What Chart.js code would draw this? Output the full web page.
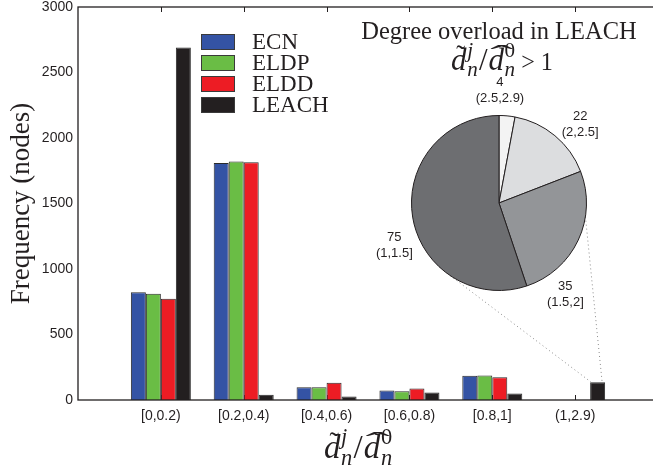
<!DOCTYPE html>
<html>
<head>
<meta charset="utf-8">
<style>
  html, body { margin: 0; padding: 0; overflow: hidden; background: #fff; width: 653px; height: 471px; }
  #wrap { position: relative; width: 668px; height: 471px; }
  #wrap canvas { position: absolute; left: 0; top: 0; }
</style>
<script src="https://cdn.jsdelivr.net/npm/chart.js@4.4.0/dist/chart.umd.min.js"></script>
</head>
<body>
<div id="wrap">
  <canvas id="bars" width="668" height="471"></canvas>
  <canvas id="pie" width="668" height="471"></canvas>
</div>
<script>
// Degree-ratio histogram per protocol
const categories = ['[0,0.2)', '[0.2,0.4)', '[0.4,0.6)', '[0.6,0.8)', '[0.8,1]', '(1,2.9)'];
const ecn   = [823, 1810, 98, 72, 185, 0];
const eldp  = [811, 1820, 98, 67, 187, 0];
const eldd  = [773, 1815, 131, 88, 174, 0];
const leach = [2690, 40, 27, 57, 50, 136];
const yTicks = [0, 500, 1000, 1500, 2000, 2500, 3000];

// LEACH nodes whose degree ratio exceeds 1, split by range
const overloadCounts = [4, 22, 35, 75];
const overloadRanges = ['(2.5,2.9)', '(2,2.5]', '(1.5,2]', '(1,1.5]'];

const ink = '#231f20';
const serif = '"Liberation Serif", "Times New Roman", serif';
const sans = '"Liberation Sans", Arial, sans-serif';

// one empty slot on each side of the six bins
const pad = arr => [null, ...arr, null];

// draws the ratio  d~_n^j / d^_n^0  (optionally followed by a tail) centred on cx
function drawRatio(ctx, cx, by, S, tail) {
  const f = (s, ital) => `${ital ? 'italic ' : ''}${s}px ${serif}`;
  const sub = S * 0.68;
  const run = (draw, x0) => {
    let x = x0;
    const put = (t, font, dx, dy) => {
      ctx.font = font;
      const w = ctx.measureText(t).width;
      if (draw) ctx.fillText(t, x + dx, by + dy);
      return w;
    };
    const accent = (t, ax, sx) => {
      if (!draw) return;
      ctx.save();
      ctx.font = f(S * 0.85);
      ctx.textAlign = 'center';
      ctx.translate(ax, by - S * 0.2);
      ctx.scale(sx, 1);
      ctx.fillText(t, 0, 0);
      ctx.restore();
    };
    const wd = put('d', f(S, true), 0, 0);
    accent('\u02DC', x + wd * 0.62, 1);
    x += wd + S * 0.02;
    const a = put('j', f(sub, true), 0, -S * 0.42);
    const b = put('n', f(sub, true), 0, S * 0.2);
    x += Math.max(a, b) + S * 0.04;
    x += put('/', f(S), 0, 0) + S * 0.03;
    const wd2 = put('d', f(S, true), 0, 0);
    accent('\u02C6', x + wd2 * 0.85, 2.6);
    x += wd2 + S * 0.02;
    const c = put('0', f(sub), 0, -S * 0.42);
    const e = put('n', f(sub, true), 0, S * 0.2);
    x += Math.max(c, e);
    if (tail) x += put(tail, f(S * 0.78), 0, 0);
    return x - x0;
  };
  ctx.save();
  ctx.fillStyle = ink;
  ctx.textAlign = 'left';
  ctx.textBaseline = 'alphabetic';
  const w = run(false, 0);
  run(true, cx - w / 2);
  ctx.restore();
}

// boxed axes with inward tick marks, series key and x-axis label
const axesDecor = {
  id: 'axesDecor',
  beforeDatasetsDraw(chart) {
    const { ctx, chartArea: a, scales: { x, y } } = chart;
    const len = 5;
    ctx.save();
    ctx.strokeStyle = ink;
    ctx.lineWidth = 1;
    ctx.beginPath();
    yTicks.forEach(v => {
      const py = Math.round(y.getPixelForValue(v)) + 0.5;
      ctx.moveTo(a.right, py); ctx.lineTo(a.right - len, py);
    });
    categories.forEach((c, i) => {
      const px = Math.round(x.getPixelForValue(i + 1)) + 0.5;
      ctx.moveTo(px, a.top); ctx.lineTo(px, a.top + len);
      ctx.moveTo(px, a.bottom); ctx.lineTo(px, a.bottom - len);
    });
    ctx.stroke();
    ctx.restore();
  },
  afterDatasetsDraw(chart) {
    const { ctx, chartArea: a } = chart;
    ctx.save();
    ctx.strokeStyle = ink;
    ctx.lineWidth = 1.3;
    ctx.strokeRect(a.left, a.top, a.right - a.left, a.bottom - a.top);

    // series key
    const kx = 201, ky = 34, sw = 34, sh = 16, step = 21;
    ctx.font = `23px ${serif}`;
    ctx.textBaseline = 'alphabetic';
    chart.data.datasets.forEach((ds, i) => {
      const top = ky + i * step;
      ctx.fillStyle = ds.backgroundColor;
      ctx.fillRect(kx, top, sw, sh);
      ctx.lineWidth = 1;
      ctx.strokeStyle = '#3a3a3a';
      ctx.strokeRect(kx + 0.5, top + 0.5, sw - 1, sh - 1);
      ctx.fillStyle = ink;
      ctx.fillText(ds.label, kx + sw + 17, top + sh - 1);
    });
    ctx.restore();

    drawRatio(ctx, 358, 458, 33);
  }
};

const barChart = new Chart(document.getElementById('bars'), {
  type: 'bar',
  data: {
    labels: ['', ...categories, ''],
    datasets: [
      { label: 'ECN',   data: pad(ecn),   backgroundColor: '#3453a4' },
      { label: 'ELDP',  data: pad(eldp),  backgroundColor: '#6abd45' },
      { label: 'ELDD',  data: pad(eldd),  backgroundColor: '#ed1c24' },
      { label: 'LEACH', data: pad(leach), backgroundColor: '#231f20' }
    ]
  },
  options: {
    responsive: false,
    animation: false,
    layout: { padding: { top: 7, right: 10, left: 0, bottom: 0 } },
    datasets: {
      bar: {
        categoryPercentage: 0.724,
        barPercentage: 1.0,
        borderWidth: 1,
        borderColor: '#2b2b2b',
        borderSkipped: 'start'
      }
    },
    scales: {
      x: {
        offset: false,
        grid: { display: false, drawTicks: false },
        border: { display: false },
        ticks: {
          autoSkip: false, maxRotation: 0, minRotation: 0,
          padding: 8, color: ink,
          font: { family: sans, size: 14 }
        },
        afterFit(scale) { scale.height = 71; scale.paddingLeft = 0; scale.paddingRight = 0; }
      },
      y: {
        min: 0, max: 3000,
        grid: { display: false, drawTicks: false },
        border: { display: false },
        afterBuildTicks(scale) { scale.ticks = yTicks.map(v => ({ value: v })); },
        ticks: {
          padding: 5, color: ink, font: { family: sans, size: 14 },
          callback: v => String(v)
        },
        title: {
          display: true, text: 'Frequency (nodes)', color: ink,
          font: { family: serif, size: 27 },
          padding: { top: 6, bottom: 0 }
        },
        afterFit(scale) { scale.width = 78; scale.paddingTop = 0; scale.paddingBottom = 0; }
      }
    },
    plugins: { legend: { display: false }, tooltip: { enabled: false } }
  },
  plugins: [axesDecor]
});

// pie inset: title, slice labels and zoom guides to the LEACH (1,2.9) bar
const pieDecor = {
  id: 'pieDecor',
  beforeDatasetsDraw(chart) {
    const arc = chart.getDatasetMeta(0).data[0];
    const { x: cx, y: cy, outerRadius: r } = arc;
    const bar = barChart.getDatasetMeta(3).data[categories.length];
    const bl = bar.x - bar.width / 2, br = bar.x + bar.width / 2;
    const pt = deg => {
      const t = deg * Math.PI / 180;
      return [cx + r * Math.sin(t), cy - r * Math.cos(t)];
    };
    const { ctx } = chart;
    ctx.save();
    ctx.strokeStyle = '#8a8a8a';
    ctx.lineWidth = 1;
    ctx.setLineDash([1, 3]);
    ctx.beginPath();
    const p1 = pt(214), p2 = pt(99);
    ctx.moveTo(p1[0], p1[1]); ctx.lineTo(bl + 1, bar.y);
    ctx.moveTo(p2[0], p2[1]); ctx.lineTo(br - 3, bar.y);
    ctx.stroke();
    ctx.restore();
  },
  afterDatasetsDraw(chart) {
    const { ctx } = chart;
    const arc = chart.getDatasetMeta(0).data[0];
    const { x: cx, y: cy, outerRadius: r } = arc;
    ctx.save();
    ctx.fillStyle = ink;
    ctx.textAlign = 'center';
    ctx.textBaseline = 'middle';
    ctx.font = `13px ${sans}`;
    const labelAngles = [0.5, 46, 144, 248];
    overloadCounts.forEach((n, i) => {
      const t = labelAngles[i] * Math.PI / 180;
      const lx = cx + 1.29 * r * Math.sin(t);
      const ly = cy - 1.29 * r * Math.cos(t);
      ctx.fillText(String(n), lx, ly - 8);
      ctx.fillText(overloadRanges[i], lx, ly + 8);
    });
    ctx.font = `24.5px ${serif}`;
    ctx.textBaseline = 'alphabetic';
    ctx.fillText('Degree overload in LEACH', cx, 39);
    ctx.restore();
    drawRatio(ctx, cx + 3, 70, 31, ' > 1');
  }
};

new Chart(document.getElementById('pie'), {
  type: 'pie',
  data: {
    labels: overloadRanges,
    datasets: [{
      data: overloadCounts,
      backgroundColor: ['#f3f3f3', '#dcdddf', '#939598', '#6d6e71'],
      borderColor: ink,
      borderWidth: 1
    }]
  },
  options: {
    responsive: false,
    animation: false,
    layout: { padding: { left: 411, right: 81, top: 115, bottom: 180 } },
    plugins: { legend: { display: false }, tooltip: { enabled: false } }
  },
  plugins: [pieDecor]
});
</script>
</body>
</html>
